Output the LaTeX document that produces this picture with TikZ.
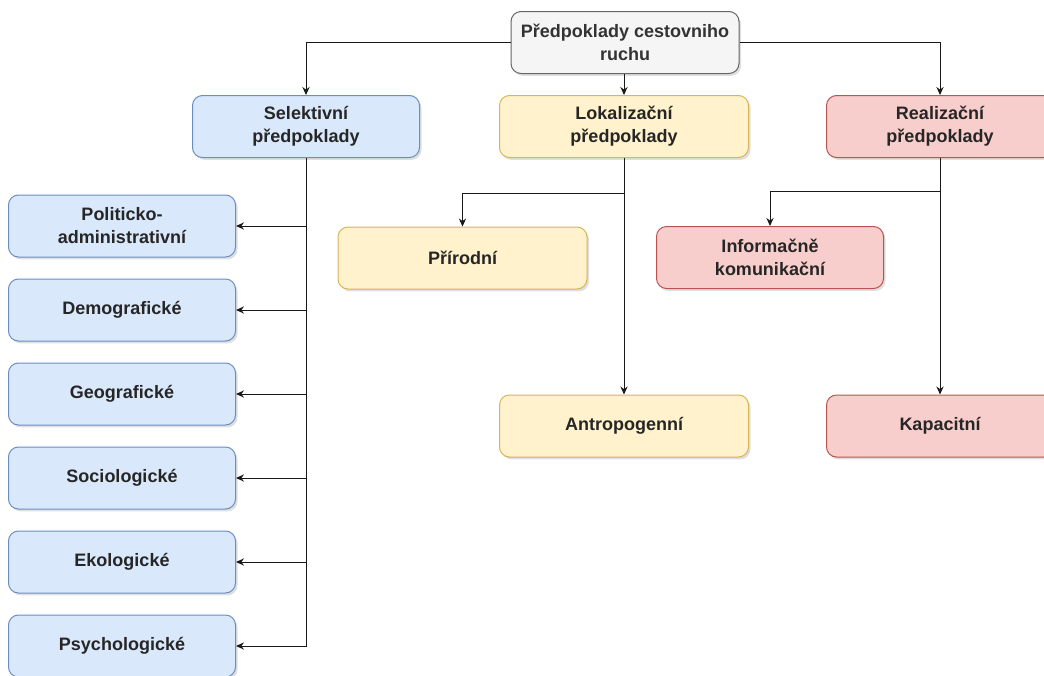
\documentclass[tikz,border=0pt]{standalone}
\usepackage{fontspec}
\setmainfont{Liberation Sans}
\usetikzlibrary{arrows.meta,shadows}

\definecolor{rootfill}{HTML}{F5F5F5}
\definecolor{rootdraw}{HTML}{666666}
\definecolor{roottext}{HTML}{333333}
\definecolor{selfill}{HTML}{DAE8FC}
\definecolor{seldraw}{HTML}{6C8EBF}
\definecolor{lokfill}{HTML}{FFF2CC}
\definecolor{lokdraw}{HTML}{D6B656}
\definecolor{realfill}{HTML}{F8CECC}
\definecolor{realdraw}{HTML}{B85450}

\begin{document}
\begin{tikzpicture}[x=0.5pt,y=-0.5pt,>={Stealth[length=4pt,width=3.6pt]}]
		\tikzstyle{box}=[rectangle,rounded corners=5pt,line width=0.5pt,minimum width=113.5pt,minimum height=31pt,align=center,text=black!85,font=\bfseries\fontsize{9}{11.5}\selectfont,drop shadow={shadow xshift=1pt,shadow yshift=-1.2pt,opacity=0.25}]
		\tikzstyle{rootbox}=[box,fill=rootfill,draw=rootdraw,text=roottext,minimum width=114pt]
		\tikzstyle{selbox}=[box,fill=selfill,draw=seldraw]
		\tikzstyle{lokbox}=[box,fill=lokfill,draw=lokdraw,minimum width=124.5pt]
		\tikzstyle{realbox}=[box,fill=realfill,draw=realdraw]
		\tikzstyle{edge}=[draw=black!90,line width=0.5pt]

		\useasboundingbox (0,0) rectangle (1044,675);
		\clip (0,0) rectangle (1044,675);

		 \node [rootbox] (root) at (625,42.5) {Předpoklady cestovniho\\ruchu};

		 \node [selbox] (sel) at (306,126.5) {Selektivní\\předpoklady};
		 \node [lokbox] (lok) at (624,126.5) {Lokalizační\\předpoklady};
		 \node [realbox] (real) at (940,126.5) {Realizační\\předpoklady};

		 \node [selbox] (pol) at (122,226) {Politicko-\\administrativní};
		 \node [selbox] (dem) at (122,310) {Demografické};
		 \node [selbox] (geo) at (122,394) {Geografické};
		 \node [selbox] (soc) at (122,478) {Sociologické};
		 \node [selbox] (eko) at (122,562) {Ekologické};
		 \node [selbox] (psy) at (122,646) {Psychologické};

		 \node [lokbox] (pri) at (462.5,258) {Přírodní};
		 \node [lokbox] (ant) at (624,426) {Antropogenní};

		 \node [realbox] (inf) at (770,257.5) {Informačně\\komunikační};
		 \node [realbox] (kap) at (940,426) {Kapacitní};

		 \coordinate (lokjoin) at (624,193);
		 \coordinate (realjoin) at (940,191);

		 \path[edge,->] (root.west) -| (sel.north);
		 \path[edge,->] (root.east) -| (real.north);
		 \path[edge,->] (root.south -| lok.north) -- (lok.north);

		 \path[edge,->] (sel.south) |- (psy.east);
		 \path[edge,->] (sel.south |- pol.east) -- (pol.east);
		 \path[edge,->] (sel.south |- dem.east) -- (dem.east);
		 \path[edge,->] (sel.south |- geo.east) -- (geo.east);
		 \path[edge,->] (sel.south |- soc.east) -- (soc.east);
		 \path[edge,->] (sel.south |- eko.east) -- (eko.east);

		 \path[edge,->] (lok.south) -- (ant.north);
		 \path[edge,->] (lokjoin) -| (pri.north);

		 \path[edge,->] (real.south) -- (kap.north);
		 \path[edge,->] (realjoin) -| (inf.north);

	\end{tikzpicture}
\end{document}
